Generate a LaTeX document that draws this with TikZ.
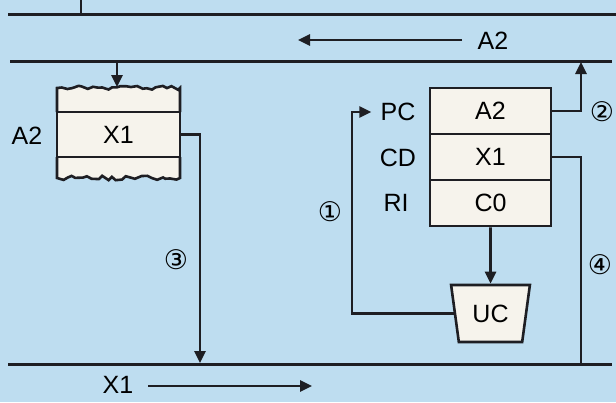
\documentclass[tikz,border=0pt]{standalone}
\usepackage{fontspec}
\setmainfont{Liberation Sans}
\newfontfamily\circfont{DejaVu Sans}
\usetikzlibrary{arrows.meta,shapes.geometric,decorations.pathmorphing}
\definecolor{bg}{RGB}{190,221,240}
\definecolor{ink}{RGB}{30,30,35}
\definecolor{paper}{RGB}{246,243,236}
\begin{document}
\begin{tikzpicture}[x=1pt,y=-1pt,
  bus/.style={draw=ink,line width=3pt},
  conn/.style={draw=ink,line width=2.6pt},
  arr/.style={-{Triangle[length=12pt,width=11pt]}},
  cell/.style={draw=ink,line width=2.6pt,fill=paper,minimum width=121pt,minimum height=46pt,inner sep=0pt,font=\fontsize{25}{28}\selectfont},
  lbl/.style={font=\fontsize{25}{28}\selectfont,inner sep=0pt},
  num/.style={font=\circfont\fontsize{27}{30}\selectfont,inner sep=0pt},
  torn/.style={decoration={random steps,segment length=5pt,amplitude=2.2pt}}]
\fill[bg] (0,0) rectangle (616,402);
\useasboundingbox (0,0) rectangle (616,402);
\pgfmathsetseed{7}
% buses
\coordinate (b1l) at (8,14);  \coordinate (b1r) at (616,14);
\coordinate (b2l) at (10,61); \coordinate (b2r) at (612,61);
\coordinate (b3l) at (8,364); \coordinate (b3r) at (612,364);
\draw[bus] (b1l) -- (b1r);
\draw[bus] (b2l) -- (b2r);
\draw[bus] (b3l) -- (b3r);
\coordinate (tk) at (81,0); \coordinate (tkb) at (81,13);
\draw[conn,line width=1.4pt] (tk) -- (tkb);
% A2 on the bus
\node[lbl] (a2top) at (493,41) {A2};
\coordinate (a2s) at (462,40); \coordinate (a2e) at (298,40);
\draw[conn,arr] (a2s) -- (a2e);
% memory
\draw[ink,line width=2.6pt,fill=paper] (57,112) -- (57,88) decorate[torn]{-- (180,88)} -- (180,112);
\draw[ink,line width=2.6pt,fill=paper] (57,157) -- (57,178) decorate[torn]{-- (180,178)} -- (180,157);
\node[cell,minimum width=123pt,minimum height=45pt] (mx1) at (118.5,134.5) {X1};
\node[lbl] (mA2) at (27,136) {A2};
\coordinate (mIn) at (117,62); \coordinate (mTop) at (117,87);
\draw[conn,arr] (mIn) -- (mTop);
\coordinate (c3) at (200,363);
\draw[conn,arr] (mx1.east) -| (c3);
\node[num] (n3) at (176,260) {③};
% registers
\node[cell] (pc) at (490.5,111) {A2};
\node[cell] (cd) at (490.5,157) {X1};
\node[cell] (ri) at (490.5,203) {C0};
\node[lbl] (lpc) at (398,112) {PC};
\node[lbl] (lcd) at (398,158) {CD};
\node[lbl] (lri) at (396,203) {RI};
% UC
\node[trapezium,draw=ink,line width=2.6pt,fill=paper,trapezium stretches=true,
      minimum width=79pt,minimum height=57pt,trapezium left angle=76,trapezium right angle=76,
      shape border rotate=180,inner sep=0pt,font=\fontsize{25}{28}\selectfont] (uc) at (490.5,313.5) {UC};
\draw[conn,arr] (ri.south) -- (uc.north);
\coordinate (c1) at (352,250);
\draw[conn,arr] (uc.west) -| (c1) |- ([xshift=-9pt]lpc.west);
\node[num] (n1) at (330,212) {①};
\coordinate (c2) at (581,62);
\draw[conn,arr] (pc.east) -| (c2);
\node[num] (n2) at (602,112) {②};
\coordinate (c4) at (581,364);
\draw[conn] (cd.east) -| (c4);
\node[num] (n4) at (600,265) {④};
% X1 on the bottom bus
\node[lbl] (x1b) at (118,385) {X1};
\coordinate (x1s) at (148,386); \coordinate (x1e) at (312,386);
\draw[conn,arr] (x1s) -- (x1e);
\end{tikzpicture}
\end{document}
